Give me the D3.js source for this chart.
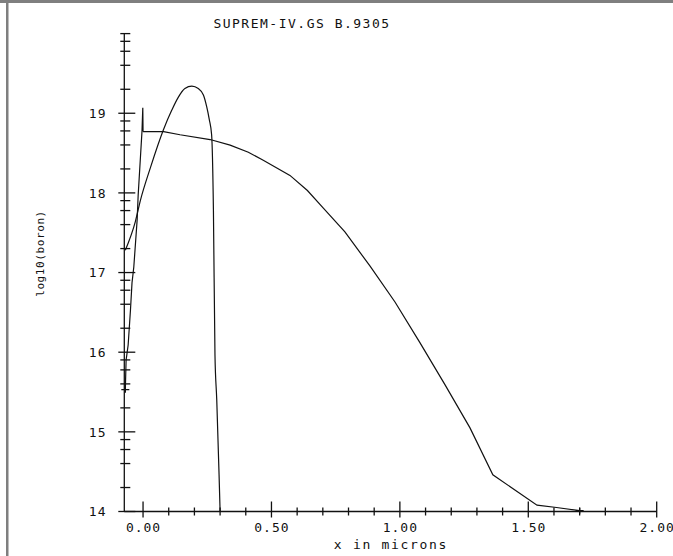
<!DOCTYPE html>
<html>
  <head>
    <meta charset="utf-8" />
    <script src="https://d3js.org/d3.v7.min.js"></script>
    <style>
        body { margin: 0; background: #fff; }
        .plotText { font-family: "DejaVu Sans Mono", monospace; fill: #111; }
    </style>
  </head>
  <body>
    <svg id="chart" width="673" height="556"></svg>

    <script>
        // tick values and labels
        var xMajor = [0, 0.5, 1.0, 1.5, 2.0];
        var xMajorLabels = ["0.00", "0.50", "1.00", "1.50", "2.00"];
        var xMinor = [0.1, 0.2, 0.3, 0.4, 0.6, 0.7, 0.8, 0.9, 1.1, 1.2, 1.3, 1.4, 1.6, 1.7, 1.8, 1.9];
        var yMajor = [14, 15, 16, 17, 18, 19];
        var yMajorLabels = ["14", "15", "16", "17", "18", "19"];
        var yDecades = [14, 15, 16, 17, 18, 19];
        var yMinorMult = [2, 4, 6, 8];

        // boron after diffusion, oxide side (x < 0) up to the interface jump
        var oxX = [-0.069, -0.066, -0.058, -0.049, -0.043, -0.036, -0.023, -0.019, -0.004, -0.001, 0.0];
        var oxY = [15.53, 15.90, 16.09, 16.53, 16.87, 17.07, 17.66, 17.97, 18.78, 19.07, 18.77];

        // boron after diffusion, silicon side
        var siX = [0.0, 0.08, 0.144, 0.261, 0.339, 0.410, 0.468, 0.572, 0.640, 0.702, 0.786, 0.884, 0.981, 1.078, 1.176,
                   1.273, 1.362, 1.534, 1.61, 1.70];
        var siY = [18.77, 18.77, 18.73, 18.67, 18.60, 18.51, 18.41, 18.22, 18.03, 17.81, 17.51, 17.08, 16.63, 16.12, 15.59,
                   15.05, 14.46, 14.08, 14.05, 14.01];

        // as-implanted profile
        var implX = [-0.069, -0.030, -0.010, 0.030, 0.079, 0.112, 0.137, 0.163, 0.190, 0.215, 0.235, 0.248, 0.258, 0.267,
                     0.274, 0.280, 0.287, 0.296, 0.300];
        var implY = [17.28, 17.64, 17.91, 18.33, 18.79, 19.04, 19.20, 19.31, 19.34, 19.31, 19.23, 19.08, 18.92, 18.73,
                     17.79, 15.97, 15.40, 14.46, 14.0];

        var svg = d3.select("#chart");

        // frame
        svg.append("rect").attr("x", 0).attr("y", 0).attr("width", 673).attr("height", 3).attr("fill", "#7f7f7f");
        svg.append("rect").attr("x", 6).attr("y", 0).attr("width", 2.5).attr("height", 556).attr("fill", "#7f7f7f");

        var x = d3.scaleLinear().domain([-0.073, 2.0]).range([124.3, 656.7]);
        var y = d3.scaleLinear().domain([14, 20]).range([511.5, 33.6]);

        var axisG = svg.append("g").attr("stroke", "#111").attr("stroke-width", 1.3);

        // axis lines
        axisG.append("line").attr("x1", x(-0.073)).attr("x2", x(2.0)).attr("y1", y(14)).attr("y2", y(14));
        axisG.append("line").attr("x1", x(-0.073)).attr("x2", x(-0.073)).attr("y1", y(14)).attr("y2", y(20));

        // x ticks
        axisG.selectAll(".xmaj").data(xMajor).enter().append("line")
            .attr("x1", function(d){ return x(d); })
            .attr("x2", function(d){ return x(d); })
            .attr("y1", y(14) - 10).attr("y2", y(14) + 6);
        axisG.selectAll(".xmin").data(xMinor).enter().append("line")
            .attr("x1", function(d){ return x(d); })
            .attr("x2", function(d){ return x(d); })
            .attr("y1", y(14) - 4).attr("y2", y(14) + 4);

        // y ticks
        var x0 = x(-0.073);
        axisG.selectAll(".ymaj").data(yMajor).enter().append("line")
            .attr("x1", x0 - 6).attr("x2", x0 + 11)
            .attr("y1", function(d){ return y(d); })
            .attr("y2", function(d){ return y(d); });
        var yMinor = [];
        yDecades.forEach(function(dec){
            yMinorMult.forEach(function(m){ yMinor.push(dec + Math.log10(m)); });
        });
        yMinor.push(20);
        axisG.selectAll(".ymin").data(yMinor).enter().append("line")
            .attr("x1", x0 - 4).attr("x2", x0 + 6)
            .attr("y1", function(d){ return y(d); })
            .attr("y2", function(d){ return y(d); });

        // tick labels
        svg.selectAll(".xlab").data(xMajor).enter().append("text")
            .attr("class", "plotText")
            .attr("x", function(d){ return x(d) + 0.5; })
            .attr("y", 532)
            .attr("text-anchor", "middle")
            .style("font-size", "13px")
            .style("letter-spacing", "1px")
            .text(function(d, i){ return xMajorLabels[i]; });

        svg.selectAll(".ylab").data(yMajor).enter().append("text")
            .attr("class", "plotText")
            .attr("x", 106.5)
            .attr("y", function(d){ return y(d) + 4.8; })
            .attr("text-anchor", "end")
            .style("font-size", "13px")
            .style("letter-spacing", "1px")
            .text(function(d, i){ return yMajorLabels[i]; });

        // titles
        svg.append("text").attr("class", "plotText")
            .attr("x", 302).attr("y", 28.3)
            .attr("text-anchor", "middle")
            .style("font-size", "13px").style("letter-spacing", "1.5px")
            .text("SUPREM-IV.GS B.9305");

        svg.append("text").attr("class", "plotText")
            .attr("x", 391).attr("y", 548.5)
            .attr("text-anchor", "middle")
            .style("font-size", "13px").style("letter-spacing", "1.7px")
            .text("x in microns");

        svg.append("text").attr("class", "plotText")
            .attr("transform", "translate(44,253.5) rotate(-90)")
            .attr("text-anchor", "middle")
            .style("font-size", "11px").style("letter-spacing", "0.6px")
            .text("log10(boron)");

        // curves
        var straight = d3.line()
            .x(function(d){ return x(d[0]); })
            .y(function(d){ return y(d[1]); });
        var smooth = d3.line()
            .curve(d3.curveMonotoneX)
            .x(function(d){ return x(d[0]); })
            .y(function(d){ return y(d[1]); });

        var oxPts = oxX.map(function(v, i){ return [v, oxY[i]]; });
        var siPts = siX.map(function(v, i){ return [v, siY[i]]; });
        var implPts = implX.map(function(v, i){ return [v, implY[i]]; });

        svg.append("path").datum(oxPts)
            .attr("d", straight).attr("fill", "none")
            .attr("stroke", "#111").attr("stroke-width", 1.2);
        svg.append("path").datum(siPts)
            .attr("d", straight).attr("fill", "none")
            .attr("stroke", "#111").attr("stroke-width", 1.2);
        svg.append("path").datum(implPts)
            .attr("d", smooth).attr("fill", "none")
            .attr("stroke", "#111").attr("stroke-width", 1.2);

        // end markers
        var ends = [oxPts[0], siPts[siPts.length - 1]];
        svg.selectAll(".mark").data(ends).enter().append("path")
            .attr("d", function(d){
                var px = x(d[0]), py = y(d[1]);
                return "M" + (px - 4) + "," + py + "H" + (px + 4) + "M" + px + "," + (py - 3) + "V" + (py + 3);
            })
            .attr("stroke", "#111").attr("stroke-width", 1.3);
    </script>
  </body>
</html>
